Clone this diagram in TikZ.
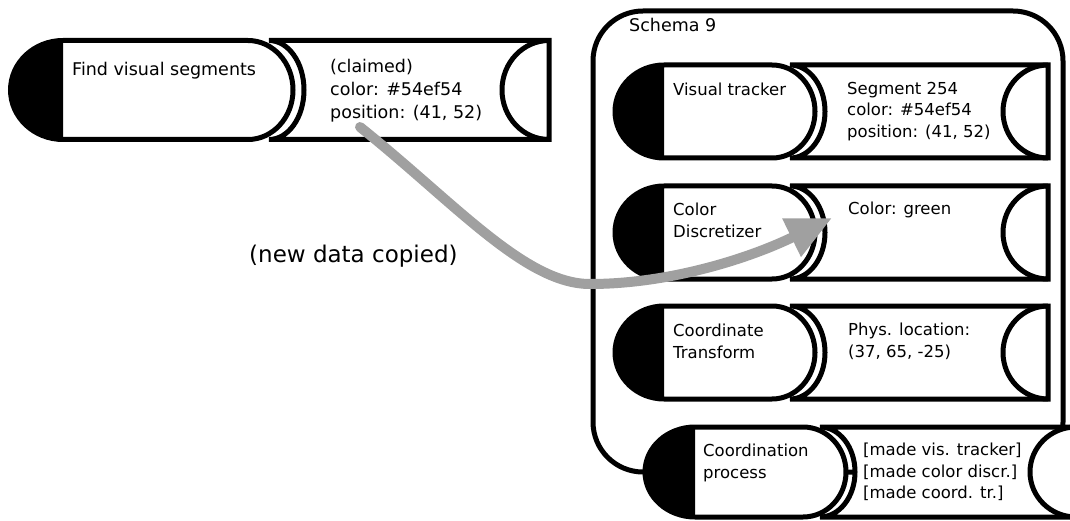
\documentclass[tikz,border=0pt]{standalone}
\usepackage{fontspec}
\setmainfont{DejaVu Sans}
\usetikzlibrary{arrows.meta}
\definecolor{arrowgray}{RGB}{160,160,160}

% One schema unit: a pill with a black cap, and the data box beside it.
% #1 left end, #2 cap edge, #3 right end of pill, #4 pill end radius,
% #5 data box left, #6 data box right, #7 top, #8 bottom, #9 socket radius
\newcommand\schemaunit[9]{%
  \pgfmathsetmacro\uhalf{(#8-#7)/2}%
  \pgfmathsetmacro\ucap{#2-#1}%
  \pgfmathsetmacro\uend{#3-#4}%
  \draw[unitline,fill=white] (#5,#7) -- (#6,#7) -- (#6,#8) -- (#5,#8)
     arc[start angle=-90,end angle=90,x radius=35pt,y radius=\uhalf pt] -- cycle;
  \draw[unitline] (#6,#7) arc[start angle=90,end angle=270,x radius=#9pt,y radius=\uhalf pt];
  \draw[unitline,fill=white] (#2,#7) -- (\uend,#7)
     arc[start angle=90,end angle=-90,x radius=#4pt,y radius=\uhalf pt] -- (#2,#8)
     arc[start angle=270,end angle=90,x radius=\ucap pt,y radius=\uhalf pt] -- cycle;
  \fill (#2,#7) -- (#2,#8)
     arc[start angle=270,end angle=90,x radius=\ucap pt,y radius=\uhalf pt] -- cycle;
}

\begin{document}
\begin{tikzpicture}[x=1pt,y=-1pt,
  unitline/.style={line width=5pt},
  lbl/.style={anchor=north west,inner sep=0pt,align=left},
  fbig/.style={font=\fontsize{17.5}{23}\selectfont},
  fsmall/.style={font=\fontsize{16.5}{21.5}\selectfont},
  fnote/.style={font=\fontsize{23}{28}\selectfont},
  copyarrow/.style={line width=10pt,draw=arrowgray,line cap=round,
    -{Triangle[length=45pt,width=40pt]}}]
\useasboundingbox (0,0) rectangle (1070,521);
\clip (0,0) rectangle (1070,521);

% schema container
\draw[unitline,rounded corners=50pt] (593,11) rectangle (1063,472);
\node[lbl,fbig] (schema) at (629,18) {Schema 9};

% units inside the schema
\schemaunit{615}{664}{815}{43}{790}{1048}{65}{158}{45}
\node[lbl,fsmall] (tracker) at (673,83) {Visual tracker};
\node[lbl,fsmall] (trackerdata) at (847,82) {Segment 254\\color: \#54ef54\\position: (41, 52)};

\schemaunit{615}{664}{815}{43}{790}{1048}{186}{279}{45}
\node[lbl,fsmall] (discr) at (673,203) {Color\\Discretizer};
\node[lbl,fsmall] (discrdata) at (848,202) {Color: green};

\schemaunit{615}{664}{815}{43}{790}{1048}{306}{399}{45}
\node[lbl,fsmall] (transform) at (673,324) {Coordinate\\Transform};
\node[lbl,fsmall] (transformdata) at (848,323) {Phys. location:\\(37, 65, -25)};

% coordination unit on the schema's lower edge
\schemaunit{645}{695}{846}{43}{820}{1076}{427}{517}{46}
\node[lbl,fsmall] (coord) at (703,444) {Coordination\\process};
\node[lbl,fsmall] (coorddata) at (863,443) {[made vis. tracker]\\{}[made color discr.]\\{}[made coord. tr.]};

% free-standing unit
\schemaunit{10.5}{63}{293}{45}{269}{549}{40.5}{139.5}{47}
\node[lbl,fbig] (finder) at (72,62) {Find visual segments};
\node[lbl,fbig] (finderdata) at (330,59) {(claimed)\\color: \#54ef54\\position: (41, 52)};

% copy arrow
\coordinate (copyfrom) at (360,127);
\coordinate (copylow) at (590,284);
\coordinate (copyto) at (832,218);
\draw[copyarrow] (copyfrom) .. controls (455,203) and (525,284) .. (copylow)
  .. controls (670,284) and (750,258) .. (copyto);
\node[anchor=base west,inner sep=0pt,fnote] (copynote) at (249,262) {(new data copied)};
\end{tikzpicture}
\end{document}
